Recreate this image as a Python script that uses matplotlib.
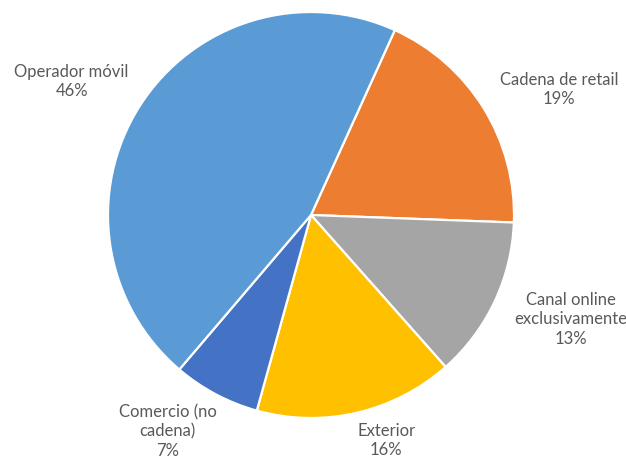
import numpy as np
import matplotlib.pyplot as plt

# slice data, clockwise from the top
categories = ["Cadena de retail", "Canal online\nexclusivamente", "Exterior",
              "Comercio (no\ncadena)", "Operador móvil"]
shares = [19, 13, 16, 7, 46]
colors = ["#ED7D31", "#A5A5A5", "#FFC000", "#4472C4", "#5B9BD5"]
# label placement: radius (in pie radii) and angle nudge from the mid-angle
label_dist = [1.37, 1.38, 1.17, 1.28, 1.35]
label_shift = [-5, 3.4, 5.4, -5.5, 3.3]

fig = plt.figure(figsize=(6.26, 4.65), dpi=100)
ax = fig.add_axes([0, 0, 1, 1])

wedges, _ = ax.pie(shares, colors=colors, startangle=65.6, counterclock=False,
                   wedgeprops=dict(edgecolor="white", linewidth=1.6))

for w, name, pct, d, s in zip(wedges, categories, shares, label_dist, label_shift):
    ang = np.deg2rad((w.theta1 + w.theta2) / 2 + s)
    ax.text(d * np.cos(ang), d * np.sin(ang), f"{name}\n{pct}%",
            ha="center", va="center", fontsize=12, color="#595959",
            family="Lato", linespacing=1.25)

ax.set_aspect("auto")
ax.set_xlim(-311 / 203, (626 - 311) / 203)
ax.set_ylim(-250 / 203, 215 / 203)
ax.axis("off")

fig.savefig("out.png", dpi=100)
